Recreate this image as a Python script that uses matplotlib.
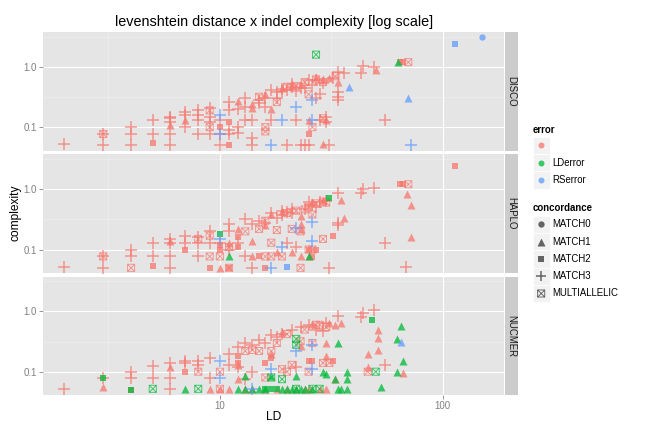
import matplotlib
matplotlib.use("Agg")
import matplotlib.pyplot as plt
from matplotlib.path import Path
from matplotlib.patches import Rectangle
from matplotlib.ticker import NullLocator

plt.rcParams['font.family'] = ['Liberation Sans', 'DejaVu Sans']

# ---- data: (LD, complexity) per panel / error / concordance ----
disco_red_match3 = [
    (2, .053), (3, .077), (3, .05), (4, .1), (4, .077), (4, .05), (5, .13), (5, .077),
    (6, .15), (6, .14), (6, .12), (6, .077), (6, .05), (7, .18), (7, .16), (7, .1),
    (8, .19), (8, .16), (8, .13), (8, .077), (9, .21), (9, .15), (9, .077), (9, .12),
    (10, .13), (10, .05), (10, .077), (11, .26), (11, .19), (11, .077), (11, .09),
    (12, .1), (12, .08), (12, .2), (13, .31), (13, .13), (13, .22), (14, .065), (14, .13), (14, .05),
    (15, .28), (15, .25), (16, .3), (16, .22), (17, .41), (17, .13), (18, .38), (18, .3),
    (19, .43), (19, .4), (20, .05), (20, .42), (21, .52), (21, .47), (22, .13), (22, .4), (23, .05),
    (23, .45), (24, .05), (24, .45), (25, .6), (25, .05), (26, .5), (27, .6), (27, .3), (28, .35),
    (28, .13), (29, .55), (30, .15), (30, .12), (31, .05), (32, .65), (34, .83), (34, .38), (34, .32),
    (34, .28), (36, .8), (43, .78), (44, 1.04), (49, 1.0), (55, .13),
]
disco_red_match1 = [(6, .11), (7, .13), (12, .27), (14, .24), (14, .21), (16, .35), (17, .2), (19, .45),
                    (21, .5), (23, .52), (25, .13), (27, .68), (29, .053), (29, .64), (30, .13), (31, .65),
                    (34, .57), (50, .88)]
disco_red_match2 = [(5, .054), (10, .1), (11, .12), (11, .05), (25, .078), (64, 1.2), (66, 1.2)]
disco_red_multi = [(3, .077), (9, .19), (9, .1), (15, .32), (16, .1), (16, .085), (18, .26),
                   (20, .47), (22, .48), (24, .56), (25, .35), (26, .1), (27, .62), (29, .56), (29, .14),
                   (33, .7), (70, 1.2)]
disco_green_match1 = [(63, 1.2)]
disco_green_multi = [(27, 1.6)]
disco_blue_match0 = [(150, 3.1)]
disco_blue_match1 = [(38, .47), (70, .31)]
disco_blue_match2 = [(113, 2.36)]
disco_blue_match3 = [(10, .16), (10, .077), (17, .05), (19, .13), (22, .22), (26, .28), (26, .13), (72, .05)]

haplo_red_match3 = [
    (2, .051), (3, .077), (3, .05), (4, .1), (4, .077), (5, .13), (5, .077), (6, .15), (6, .13),
    (6, .077), (6, .05), (7, .17), (7, .13), (8, .16), (8, .077), (8, .13), (9, .2), (9, .13),
    (10, .13), (11, .2), (11, .1), (11, .26), (12, .13), (13, .32), (13, .077), (14, .26), (14, .05),
    (15, .3), (16, .28), (17, .41), (18, .33), (19, .43), (19, .37), (20, .13), (20, .42), (21, .46),
    (21, .4), (22, .11), (24, .46), (25, .6), (26, .55), (27, .5), (28, .6), (30, .63), (31, .05),
    (34, .86), (34, .28), (34, .25), (43, .86), (44, 1.0), (49, 1.05), (55, .13), (68, .052),
]
haplo_red_match1 = [(6, .14), (10, .05), (11, .13), (12, .22), (14, .14), (14, .077), (16, .25),
                    (17, .38), (18, .09), (19, .43), (21, .09), (23, .36), (23, .077), (23, .26),
                    (23, .22), (25, .077), (26, .62), (29, .65), (35, .65), (36, .33), (69, .83),
                    (72, .54), (72, .16)]
haplo_red_match2 = [(5, .053), (7, .1), (9, .05), (10, .1), (10, .12), (11, .05), (12, .16), (12, .11),
                    (15, .077), (16, .05), (25, .1), (26, .075), (27, .1), (32, .17), (64, 1.2),
                    (66, 1.2), (113, 2.4)]
haplo_red_multi = [(3, .077), (4, .05), (8, .15), (9, .17), (9, .077), (10, .077), (11, .11), (11, .05),
                   (13, .2), (15, .22), (16, .077), (16, .3), (17, .13), (17, .077), (18, .21), (19, .077),
                   (20, .4), (21, .22), (22, .44), (23, .2), (23, .05), (24, .46), (25, .1), (25, .5),
                   (26, .38), (26, .1), (27, .58), (29, .15), (29, .62), (30, .6), (70, 1.2)]
haplo_green_match1 = [(11, .077), (25, .077)]
haplo_green_match2 = [(10, .18), (31, .71)]
haplo_blue_match2 = [(20, .052)]
haplo_blue_match3 = [(10, .15), (17, .05), (19, .11), (22, .23), (26, .29), (26, .14)]

nucmer_red_match3 = [
    (2, .052), (3, .078), (4, .1), (4, .078), (5, .126), (5, .078), (6, .14), (6, .078), (6, .052),
    (7, .15), (7, .14), (8, .15), (8, .13), (9, .17), (9, .078), (11, .2), (11, .13), (12, .26),
    (12, .12), (13, .3), (13, .077), (14, .28), (14, .1), (15, .33), (16, .3), (17, .41), (18, .38),
    (19, .43), (21, .5), (22, .12), (23, .55), (25, .6), (27, .5), (29, .48), (30, .65), (34, .85),
    (43, .8), (44, .95), (49, 1.07), (55, .13),
]
nucmer_red_match1 = [(3, .055), (6, .12), (9, .052), (10, .052), (11, .052), (12, .13), (12, .077),
                     (13, .052), (14, .052), (16, .052), (17, .2), (18, .052), (19, .45), (20, .052),
                     (22, .052), (23, .27), (24, .052), (25, .052), (26, .62), (28, .052), (30, .052),
                     (30, .3), (30, .18), (31, .65), (33, .077), (33, .6), (35, .65), (46, .2), (46, .12),
                     (51, .5), (51, .36), (51, .23), (66, .095)]
nucmer_red_match2 = [(4, .05), (7, .1), (12, .18), (12, .14), (16, .14), (17, .17), (25, .15),
                     (26, .15), (32, .15)]
nucmer_red_multi = [(8, .1), (10, .1), (10, .052), (13, .22), (14, .23), (15, .22), (16, .08), (17, .22),
                    (18, .3), (19, .11), (20, .1), (20, .42), (21, .13), (23, .32), (24, .5), (25, .1),
                    (26, .3), (27, .6), (29, .14), (31, .14), (28, .6), (30, .55), (46, .1)]
nucmer_green_match1 = [(7, .052), (12, .052), (13, .052), (13, .085), (14, .052), (15, .052), (16, .052),
                       (17, .085), (19, .052), (20, .052), (21, .052), (22, .085), (22, .052), (23, .052),
                       (24, .052), (26, .052), (29, .1), (30, .09), (33, .077), (34, .3), (34, .052),
                       (35, .052), (37, .1), (37, .077), (37, .052), (53, .055), (62, .35), (62, .1),
                       (65, .58), (66, .15)]
nucmer_green_match2 = [(3, .078), (4, .05), (16, .052), (17, .052), (18, .052), (48, .71)]
nucmer_green_multi = [(5, .052), (8, .052), (17, .08), (19, .075), (22, .35), (22, .28), (22, .052),
                      (26, .052), (28, .052), (50, .1)]
nucmer_blue_match1 = [(65, .31)]
nucmer_blue_match3 = [(10, .15), (10, .08), (14, .052), (17, .11), (22, .22), (26, .28), (26, .11)]

facets = ["DISCO", "HAPLO", "NUCMER"]
error_levels = ["", "LDerror", "RSerror"]
error_colors = ["#F8766D", "#00BA38", "#619CFF"]
concordance_levels = ["MATCH0", "MATCH1", "MATCH2", "MATCH3", "MULTIALLELIC"]

layers = {
    "DISCO": [("", "MATCH3", disco_red_match3), ("", "MATCH1", disco_red_match1),
              ("", "MATCH2", disco_red_match2), ("", "MULTIALLELIC", disco_red_multi),
              ("LDerror", "MATCH1", disco_green_match1), ("LDerror", "MULTIALLELIC", disco_green_multi),
              ("RSerror", "MATCH0", disco_blue_match0), ("RSerror", "MATCH1", disco_blue_match1),
              ("RSerror", "MATCH2", disco_blue_match2), ("RSerror", "MATCH3", disco_blue_match3)],
    "HAPLO": [("", "MATCH3", haplo_red_match3), ("", "MATCH1", haplo_red_match1),
              ("", "MATCH2", haplo_red_match2), ("", "MULTIALLELIC", haplo_red_multi),
              ("LDerror", "MATCH1", haplo_green_match1), ("LDerror", "MATCH2", haplo_green_match2),
              ("RSerror", "MATCH2", haplo_blue_match2), ("RSerror", "MATCH3", haplo_blue_match3)],
    "NUCMER": [("", "MATCH3", nucmer_red_match3), ("", "MATCH1", nucmer_red_match1),
               ("", "MATCH2", nucmer_red_match2), ("", "MULTIALLELIC", nucmer_red_multi),
               ("LDerror", "MATCH1", nucmer_green_match1), ("LDerror", "MATCH2", nucmer_green_match2),
               ("LDerror", "MULTIALLELIC", nucmer_green_multi),
               ("RSerror", "MATCH1", nucmer_blue_match1), ("RSerror", "MATCH3", nucmer_blue_match3)],
}

# square with a cross inside (ggplot shape 7)
boxx = Path([(-1, -1), (1, -1), (1, 1), (-1, 1), (-1, -1), (-1, -1), (1, 1), (-1, 1), (1, -1)],
            [Path.MOVETO, Path.LINETO, Path.LINETO, Path.LINETO, Path.CLOSEPOLY,
             Path.MOVETO, Path.LINETO, Path.MOVETO, Path.LINETO])

shape_style = {
    "MATCH0": dict(marker="o", s=40, filled=True),
    "MATCH1": dict(marker="^", s=64, filled=True),
    "MATCH2": dict(marker="s", s=42, filled=True),
    "MATCH3": dict(marker="+", s=150, filled=False),
    "MULTIALLELIC": dict(marker=boxx, s=50, filled=False),
}


def draw_points(ax, pts, color, conc, alpha=0.75, scale=1.0):
    st = shape_style[conc]
    x = [p[0] for p in pts]
    y = [p[1] for p in pts]
    if st["filled"]:
        ax.scatter(x, y, s=st["s"] * scale, marker=st["marker"], color=color,
                   linewidths=0, alpha=alpha, zorder=3)
    elif conc == "MATCH3":
        ax.scatter(x, y, s=st["s"] * scale, marker="+", color=color,
                   linewidths=1.5, alpha=alpha, zorder=3)
    else:
        ax.scatter(x, y, s=st["s"] * scale, marker=st["marker"], facecolors="none",
                   edgecolors=color, linewidths=0.9, alpha=alpha, zorder=3)


W, H = 648, 432
fig = plt.figure(figsize=(W / 72, H / 72), dpi=72)


def box(l, t, r, b):
    return [l / W, 1 - b / H, (r - l) / W, (b - t) / H]


panel_rows = [(32, 150.5), (154, 273), (276.5, 395)]
grey50 = "#7F7F7F"

for i, name in enumerate(facets):
    top, bot = panel_rows[i]
    ax = fig.add_axes(box(43, top, 504, bot))
    ax.set_facecolor("#E5E5E5")
    ax.set_xscale("log")
    ax.set_yscale("log")
    ax.set_xlim(1.61, 188)
    ax.set_ylim(0.041, 3.8)
    for sp in ax.spines.values():
        sp.set_visible(False)
    for v in [10 ** 0.5, 10 ** 1.5]:
        ax.axvline(v, color="#F2F2F2", lw=0.5, zorder=0)
    for v in [10 ** -0.5, 10 ** 0.5]:
        ax.axhline(v, color="#F2F2F2", lw=0.5, zorder=0)
    for v in [10, 100]:
        ax.axvline(v, color="white", lw=1.1, zorder=0)
    for v in [0.1, 1.0]:
        ax.axhline(v, color="white", lw=1.1, zorder=0)
    ax.xaxis.set_minor_locator(NullLocator())
    ax.yaxis.set_minor_locator(NullLocator())
    ax.set_yticks([0.1, 1.0])
    ax.set_yticklabels(["0.1", "1.0"])
    ax.set_xticks([10, 100])
    if i == 2:
        ax.set_xticklabels(["10", "100"])
        ax.tick_params(axis="x", length=4, width=0.8, color=grey50, labelcolor=grey50,
                       labelsize=9.6, pad=2)
    else:
        ax.tick_params(axis="x", length=0, labelbottom=False)
    ax.tick_params(axis="y", length=4, width=0.8, color=grey50, labelcolor=grey50,
                   labelsize=9.6, pad=2)

    for err, conc, pts in layers[name]:
        draw_points(ax, pts, error_colors[error_levels.index(err)], conc)

    # facet strip on the right
    sax = fig.add_axes(box(504.5, top, 518, bot))
    sax.set_facecolor("#CCCCCC")
    sax.set_xticks([])
    sax.set_yticks([])
    for sp in sax.spines.values():
        sp.set_visible(False)
    sax.text(0.5, 0.5, name, rotation=-90, ha="center", va="center", fontsize=9.6,
             color="#1A1A1A", transform=sax.transAxes)

fig.text(274 / W, 1 - 26 / H, "levenshtein distance x indel complexity [log scale]",
         ha="center", va="baseline", fontsize=14.4)
fig.text(274 / W, 1 - 417 / H, "LD", ha="center", va="center", fontsize=12)
fig.text(15 / W, 1 - 213 / H, "complexity", ha="center", va="center", rotation=90, fontsize=12)

# ---- legends ----
lax = fig.add_axes([0, 0, 1, 1])
lax.set_xlim(0, W)
lax.set_ylim(H, 0)
lax.axis("off")
lax.patch.set_visible(False)

key_x0, key_w, key_h = 532.7, 17, 17.3


def legend_block(title, title_y, first_y, labels):
    lax.text(key_x0, title_y, title, fontsize=9.6, fontweight="bold", va="center", ha="left")
    centers = []
    for k, lab in enumerate(labels):
        cy = first_y + k * key_h
        lax.add_patch(Rectangle((key_x0, cy - key_h / 2), key_w, key_h, facecolor="#F2F2F2",
                                edgecolor="white", lw=0.8))
        lax.text(key_x0 + key_w + 2.5, cy, lab, fontsize=9.6, va="center", ha="left")
        centers.append(cy)
    return centers


err_y = legend_block("error", 130, 145.3, error_levels)
for cy, col in zip(err_y, error_colors):
    lax.scatter([key_x0 + key_w / 2], [cy], s=36, marker="o", color=col, alpha=0.75, linewidths=0)

conc_y = legend_block("concordance", 208.3, 224.3, concordance_levels)
for cy, conc in zip(conc_y, concordance_levels):
    draw_points(lax, [(key_x0 + key_w / 2, cy)], "#333333", conc, alpha=0.75,
                scale=0.8 if conc == "MATCH3" else 1.0)

fig.savefig("out.png", dpi=72)
